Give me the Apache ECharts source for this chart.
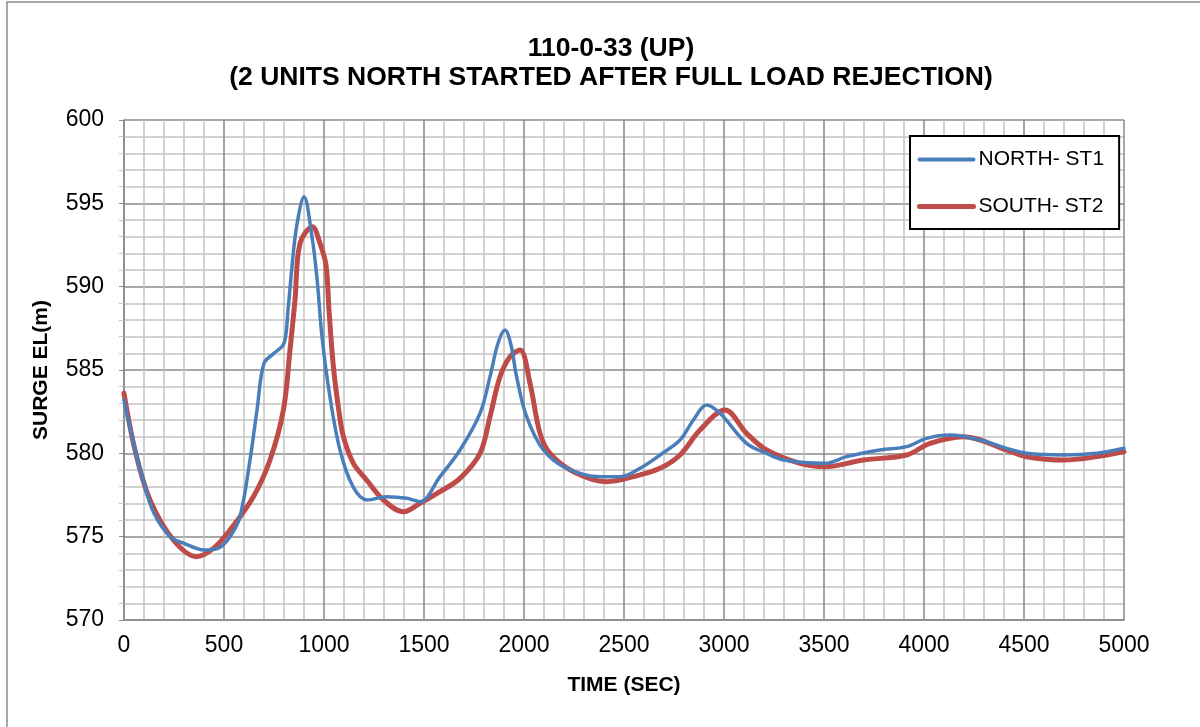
<!DOCTYPE html>
<html>
<head>
<meta charset="utf-8">
<title>110-0-33 (UP)</title>
<script src="https://cdn.jsdelivr.net/npm/echarts@6/dist/echarts.min.js"></script>
<style>
  html, body { margin: 0; padding: 0; background: #fff; }
  #grafico { width: 1200px; height: 727px; }
</style>
</head>
<body>
<div id="grafico"></div>
<script>
// valores (tempo em s, elevação em m)
var northTime = [0, 50, 100, 150, 230, 300, 400, 470, 530, 580, 630, 665, 700, 750, 800, 820, 840, 863, 900, 940, 965, 990, 1027, 1080, 1145, 1215, 1315, 1415, 1480, 1580, 1680, 1780, 1830, 1870, 1905, 1935, 1963, 2013, 2097, 2213, 2380, 2480, 2580, 2680, 2780, 2847, 2913, 2980, 3113, 3213, 3300, 3505, 3613, 3780, 3913, 4013, 4130, 4280, 4413, 4513, 4697, 4863, 5000];
var northEl = [583.2, 580.5, 578.2, 576.4, 575.0, 574.6, 574.2, 574.3, 575.0, 576.2, 579.6, 582.6, 585.4, 586.0, 586.6, 588.6, 591.2, 593.6, 595.4, 593.0, 590.5, 587.0, 583.6, 580.2, 578.0, 577.2, 577.4, 577.3, 577.1, 578.6, 580.2, 582.4, 584.6, 586.6, 587.4, 586.5, 584.6, 582.2, 580.2, 579.1, 578.6, 578.6, 579.1, 579.9, 580.8, 582.0, 582.9, 582.4, 580.6, 580.0, 579.6, 579.4, 579.8, 580.2, 580.4, 580.9, 581.1, 580.8, 580.3, 580.0, 579.9, 580.0, 580.3];

var southTime = [0, 55, 130, 247, 363, 447, 530, 647, 730, 797, 830, 855, 880, 942, 980, 1010, 1025, 1047, 1075, 1097, 1147, 1213, 1297, 1397, 1480, 1580, 1680, 1780, 1830, 1880, 1930, 1980, 2030, 2080, 2130, 2247, 2413, 2547, 2680, 2780, 2880, 3005, 3113, 3213, 3380, 3505, 3697, 3913, 4030, 4197, 4413, 4513, 4697, 5000];
var southEl = [583.6, 580.2, 577.2, 574.8, 573.8, 574.3, 575.4, 577.4, 579.6, 582.6, 586.2, 589.2, 592.6, 593.6, 592.6, 591.3, 588.6, 585.2, 582.5, 581.0, 579.4, 578.4, 577.2, 576.5, 577.0, 577.7, 578.5, 580.0, 582.2, 584.6, 585.8, 586.2, 584.2, 581.2, 580.0, 578.9, 578.3, 578.6, 579.1, 579.9, 581.4, 582.6, 581.2, 580.2, 579.4, 579.2, 579.6, 579.9, 580.6, 581.0, 580.2, 579.8, 579.6, 580.1];

var seriesNames = ['NORTH- ST1', 'SOUTH- ST2'];

function pares(xs, ys) {
    var out = [];
    for (var i = 0; i < xs.length; i++) {
        out.push([xs[i], ys[i]]);
    }
    return out;
}

var dom = document.getElementById("grafico");
var myChart = echarts.init(dom);

var corMenor = '#c4c4c4';
var corMaior = '#8a8a8a';

var option = {
    animation: false,
    backgroundColor: '#fff',
    textStyle: { fontFamily: 'Liberation Sans' },
    graphic: [{
        type: 'rect',
        z: -10,
        shape: { x: 7, y: 2, width: 1400, height: 1000 },
        style: { fill: 'none', stroke: '#8c8c8c', lineWidth: 1.5 }
    }],
    title: {
        text: '110-0-33 (UP)\n(2 UNITS NORTH STARTED AFTER FULL LOAD REJECTION)',
        left: 606,
        textAlign: 'center',
        top: 29,
        textStyle: {
            fontFamily: 'Liberation Sans',
            fontSize: 26.5,
            fontWeight: 'bold',
            lineHeight: 29,
            color: '#000'
        }
    },
    legend: {
        orient: 'vertical',
        left: 910,
        top: 136,
        padding: [13, 15, 12, 7],
        itemWidth: 54,
        itemHeight: 22,
        itemGap: 26,
        itemTextGap: 4,
        itemStyle: { opacity: 0 },
        borderColor: '#000',
        borderWidth: 2,
        backgroundColor: '#fff',
        textStyle: { fontSize: 21, color: '#000', fontFamily: 'Liberation Sans' },
        data: [
            { name: seriesNames[0], lineStyle: { width: 4, cap: 'round' } },
            { name: seriesNames[1], lineStyle: { width: 5, cap: 'round' } }
        ]
    },
    grid: {
        left: 124,
        right: 76,
        top: 120,
        bottom: 107
    },
    xAxis: {
        type: 'value',
        min: 0,
        max: 5000,
        interval: 500,
        name: 'TIME (SEC)',
        nameLocation: 'middle',
        nameGap: 55,
        nameTextStyle: { fontSize: 21, fontWeight: 'bold', color: '#000' },
        axisLine: { lineStyle: { color: corMaior, width: 1.5 } },
        axisTick: { show: false },
        axisLabel: {
            fontSize: 23, color: '#000', margin: 14,
            formatter: function (v) { return String(v); }
        },
        splitLine: { show: true, lineStyle: { color: corMaior, width: 1.5 } },
        minorTick: { show: false, splitNumber: 5 },
        minorSplitLine: { show: true, lineStyle: { color: corMenor, width: 1.5 } }
    },
    yAxis: {
        type: 'value',
        min: 570,
        max: 600,
        interval: 5,
        name: 'SURGE EL(m)',
        nameLocation: 'middle',
        nameGap: 72,
        nameTextStyle: { fontSize: 21, fontWeight: 'bold', color: '#000' },
        axisLine: { show: true, lineStyle: { color: corMaior, width: 1.5 } },
        axisTick: { show: true, length: 5, lineStyle: { color: corMaior } },
        axisLabel: { fontSize: 23, color: '#000', margin: 20 },
        splitLine: { show: true, lineStyle: { color: corMaior, width: 1.5 } },
        minorTick: { show: true, splitNumber: 5, length: 5, lineStyle: { color: corMenor } },
        minorSplitLine: { show: true, lineStyle: { color: corMenor, width: 1.5 } }
    },
    series: [{
        name: seriesNames[0],
        type: 'line',
        symbol: 'none',
        smooth: 0.35,
        z: 3,
        itemStyle: { color: '#4a7ebb' },
        lineStyle: { color: '#4a7ebb', width: 3.5, cap: 'round', join: 'round' },
        data: pares(northTime, northEl)
    }, {
        name: seriesNames[1],
        type: 'line',
        symbol: 'none',
        smooth: 0.35,
        z: 2,
        itemStyle: { color: '#be4b48' },
        lineStyle: { color: '#be4b48', width: 5, cap: 'round', join: 'round' },
        data: pares(southTime, southEl)
    }]
};

if (option && typeof option === "object") {
    myChart.setOption(option, true);
}
</script>
</body>
</html>
